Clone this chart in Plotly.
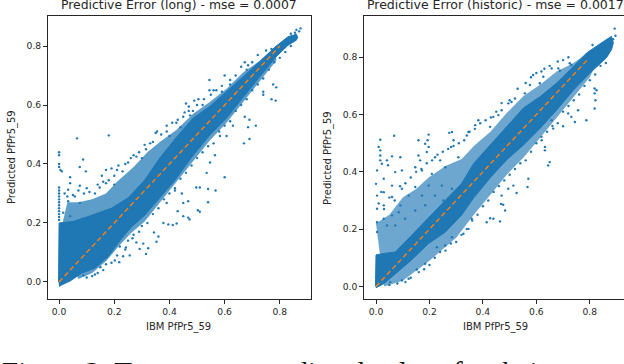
import plotly.graph_objects as go

# ---- left panel (long) ----
left_title = "Predictive Error (long) - mse = 0.0007"
left_core_x = [-0.002,0,0.05,0.1,0.19,0.25,0.31,0.365,0.425,0.486,0.546,0.607,0.667,0.727,0.787,0.83,0.86,0.865,0.86,0.83,0.787,0.727,0.667,0.607,0.546,0.486,0.42,0.358,0.311,0.263,0.227,0.178,0.13,0.082,0.04,0.01,0]
left_core_y = [0.0,0.2,0.205,0.22,0.25,0.285,0.345,0.42,0.49,0.556,0.595,0.645,0.696,0.747,0.8,0.832,0.84,0.83,0.82,0.803,0.764,0.696,0.624,0.556,0.498,0.43,0.345,0.278,0.227,0.187,0.148,0.086,0.047,0.03,0.003,-0.01,-0.016]
left_haze_x = [0,0.03,0.07,0.12,0.17,0.21,0.27,0.32,0.365,0.425,0.486,0.546,0.607,0.667,0.727,0.787,0.787,0.727,0.667,0.607,0.546,0.486,0.42,0.36,0.31,0.26,0.22,0.17,0.12,0.07]
left_haze_y = [0.15,0.27,0.27,0.28,0.30,0.34,0.39,0.44,0.475,0.515,0.57,0.61,0.655,0.71,0.75,0.80,0.75,0.68,0.61,0.54,0.48,0.41,0.33,0.26,0.205,0.165,0.125,0.07,0.03,0.01]
left_pts_x = [0,0,0,0,0.005,0.01,0.065,0.18,0.087,0.04,0.075,0.097,0.673,0.685,0.545,0.6,0.62,0.59,0.545,0.56,0.525,0.505,0.49,0.46,0.47,0.455,0.485,0.475,0.425,0.44,0.39,0.355,0.4,0.34,0.315,0.28,0.25,0.215,0.17,0.19,0.155,
              0.776,0.787,0.74,0.74,0.77,0.785,0.63,0.673,0.69,0.713,0.685,0.67,0.69,0.607,0.583,0.565,0.547,0.6,0.535,0.51,
              0.567,0.54,0.54,0.51,0.497,0.503,0.51,0.473,0.468,0.45,0.426,0.412,0.396,0.378,0.43,0.468,0.45,0.445,0.353,0.36,0.344,0.323,0.315,0.292,0.28,0.305,0.256,0.232,0.202,0.218,0.16,0.13,0.088,0.266,0.242,0.39,0.42,
              0.04,0.033,0.075,0.1,0.147,0.17,0.2,0.033,0.057,0.075,0.015,0.04,
              0,0,0,0,0,0,0,0,0,0,0,0,0.86,0.875,0.855,0.87,0.84]
left_pts_y = [0.44,0.43,0.40,0.39,0.38,0.375,0.487,0.497,0.415,0.355,0.39,0.375,0.745,0.735,0.685,0.70,0.685,0.665,0.65,0.65,0.62,0.62,0.615,0.605,0.595,0.575,0.58,0.565,0.54,0.525,0.51,0.51,0.495,0.475,0.45,0.425,0.405,0.395,0.38,0.385,0.36,
              0.67,0.66,0.645,0.635,0.62,0.615,0.53,0.56,0.55,0.53,0.525,0.47,0.485,0.495,0.495,0.43,0.405,0.355,0.37,0.46,
              0.31,0.315,0.27,0.32,0.32,0.243,0.238,0.212,0.218,0.223,0.198,0.193,0.195,0.2,0.24,0.274,0.268,0.3,0.136,0.154,0.168,0.114,0.095,0.112,0.134,0.13,0.09,0.087,0.073,0.067,0.04,0.025,0.022,0.148,0.117,0.268,0.318,
              0.335,0.313,0.326,0.318,0.32,0.335,0.33,0.274,0.29,0.268,0.235,0.223,
              0.32,0.31,0.30,0.29,0.28,0.27,0.26,0.25,0.24,0.23,0.22,0.21,0.855,0.86,0.845,0.85,0.842]
left_edge_x = [.02,.03,.05,.07,.09,.11,.13,.14,.16,.18,.2,.21,.23,.24,.26,.27,.29,.3,.31,.33,.35,.37,.39,.41,.43,.45,.47,.5,.52,.55,.57,.59,.62,.64,.66,.68,.7,.72,.75,.77,
               .1,.12,.14,.15,.17,.19,.21,.22,.24,.25,.27,.29,.3,.32,.34,.36,.38,.4,.42,.44,.46,.48,.5,.52,.54,.56,.58,.6,.62,.64,.66,.68,.7,.72,.74,.76,.78,.8,.82,.84]
left_edge_y = [.30,.29,.295,.31,.30,.305,.3,.33,.34,.345,.36,.38,.375,.40,.42,.43,.44,.42,.465,.47,.505,.5,.53,.54,.55,.56,.58,.60,.60,.635,.65,.645,.67,.70,.73,.72,.745,.77,.785,.79,
               .015,.02,.03,.05,.06,.065,.09,.12,.11,.14,.16,.17,.19,.20,.23,.25,.28,.30,.31,.35,.37,.395,.42,.44,.46,.47,.51,.53,.545,.58,.60,.62,.65,.67,.69,.72,.745,.76,.78,.80]
left_line_x = [0.0,0.8]
left_line_y = [0.0,0.8]

# ---- right panel (historic) ----
right_title = "Predictive Error (historic) - mse = 0.0017"
right_core_x = [-0.002,0,0.03,0.072,0.13,0.197,0.26,0.321,0.366,0.428,0.489,0.552,0.615,0.676,0.739,0.788,0.851,0.881,0.888,0.881,0.862,0.801,0.739,0.676,0.615,0.552,0.489,0.428,0.366,0.321,0.26,0.197,0.13,0.072,0.03,0]
right_core_y = [0,0.11,0.115,0.12,0.175,0.24,0.30,0.36,0.43,0.494,0.558,0.623,0.663,0.71,0.768,0.815,0.855,0.873,0.85,0.826,0.798,0.745,0.686,0.616,0.553,0.494,0.442,0.38,0.31,0.25,0.19,0.15,0.09,0.045,0.01,-0.005]
right_haze_x = [0,0.05,0.1,0.15,0.197,0.26,0.321,0.366,0.428,0.489,0.552,0.615,0.676,0.739,0.8,0.86,0.8,0.739,0.676,0.615,0.552,0.489,0.428,0.366,0.3,0.2,0.1,0.03]
right_haze_y = [0.22,0.25,0.31,0.34,0.38,0.42,0.445,0.49,0.54,0.605,0.665,0.705,0.75,0.78,0.82,0.85,0.73,0.66,0.59,0.52,0.45,0.39,0.32,0.25,0.17,0.09,0.02,0.0]
right_pts_x = [0.893,0.896,0.887,0.81,0.725,0.731,0.657,0.682,0.688,0.619,0.626,0.588,0.576,0.613,0.557,0.52,0.495,0.507,0.47,0.458,0.439,0.383,0.371,0.427,0.346,0.34,0.284,0.274,0.29,0.281,0.197,0.193,0.184,0.19,0.197,0.159,0.068,0.016,0.01,0.016,0.016,0.016,0.022,0.041,0.045,0.06,0.004,0.091,0.097,0.159,0.165,0.147,0.172,0.221,0.24,0.259,0.209,0.308,0.072,0.029,
               0.818,0.825,0.818,0.821,0.818,0.787,0.744,0.731,0.719,0.756,0.663,0.619,0.632,0.632,0.65,0.644,0.57,0.657,0.7,
               0.567,0.526,0.514,0.495,0.47,0.468,0.476,0.483,0.439,0.414,0.464,0.427,0.346,0.358,0.327,0.284,0.259,0.228,0.184,0.153,0.122,0.097,0.053,
               0,0.004,0.029,0.06,0.091,0.085,0.06,0.122,0.147,0.172,0.197,0.097,0.06,0.004,0.004,0.004,0.029,0.041,0.029,0.072,0.109,0.147,0.184,0.221,0.246,0.284,0.252]
right_pts_y = [0.90,0.875,0.863,0.843,0.779,0.773,0.761,0.761,0.753,0.75,0.732,0.738,0.703,0.709,0.674,0.656,0.639,0.644,0.615,0.598,0.592,0.58,0.563,0.557,0.539,0.527,0.539,0.536,0.51,0.487,0.53,0.51,0.498,0.469,0.487,0.51,0.526,0.512,0.487,0.475,0.457,0.44,0.428,0.44,0.423,0.454,0.405,0.451,0.405,0.457,0.44,0.416,0.405,0.451,0.44,0.416,0.393,0.451,0.399,0.376,
               0.691,0.685,0.674,0.65,0.621,0.58,0.574,0.592,0.604,0.615,0.551,0.522,0.487,0.475,0.434,0.422,0.376,0.58,0.559,
               0.347,0.326,0.352,0.341,0.317,0.288,0.285,0.265,0.236,0.224,0.227,0.238,0.201,0.236,0.184,0.172,0.143,0.137,0.079,0.059,0.027,0.021,0.015,
               0.358,0.317,0.329,0.312,0.283,0.259,0.248,0.317,0.347,0.317,0.352,0.341,0.352,0.271,0.224,0.19,0.283,0.213,0.236,0.213,0.236,0.265,0.283,0.317,0.352,0.341,0.3]
right_edge_x = [.01,.02,.03,.05,.07,.09,.11,.13,.15,.17,.19,.21,.23,.25,.27,.29,.31,.33,.35,.37,.39,.41,.43,.45,.47,.5,.53,.56,.58,.6,.63,.65,.68,.7,.72,
                .05,.08,.11,.13,.16,.18,.2,.22,.24,.26,.28,.3,.32,.34,.36,.38,.4,.42,.44,.46,.48,.5,.52,.54,.56,.58,.6,.62,.64,.66,.68,.7,.72,.74,.76,.78,.8,.82,.84,.86]
right_edge_y = [.29,.33,.27,.31,.30,.35,.36,.38,.40,.41,.43,.44,.46,.47,.48,.49,.50,.51,.54,.55,.57,.58,.59,.61,.64,.65,.69,.71,.73,.745,.76,.77,.785,.79,.80,
                .005,.01,.015,.03,.05,.06,.075,.10,.12,.125,.15,.155,.18,.20,.23,.25,.28,.30,.33,.35,.37,.39,.41,.43,.44,.47,.50,.51,.54,.56,.57,.61,.63,.65,.67,.70,.72,.74,.77,.78]
right_line_x = [0.0,0.795]
right_line_y = [0.0,0.795]

x_ticks = [0.0,0.2,0.4,0.6,0.8]
y_ticks = [0.0,0.2,0.4,0.6,0.8]
x_label = "IBM PfPr5_59"
y_label = "Predicted PfPr5_59"
caption = "Figure 3: True versus predicted values for their"

BLUE, ORANGE, INK = "#1f77b4", "#ff7f0e", "#262626"
W, H = 624, 364
fig = go.Figure()

def panel(core_x, core_y, haze_x, haze_y, pts_x, pts_y, edge_x, edge_y, line_x, line_y, xa, ya, haze_op):
    fig.add_trace(go.Scatter(x=haze_x, y=haze_y, mode="lines", fill="toself", line=dict(width=0),
                             fillcolor=BLUE, opacity=haze_op, xaxis=xa, yaxis=ya, showlegend=False, hoverinfo="skip"))
    fig.add_trace(go.Scatter(x=core_x, y=core_y, mode="lines", fill="toself", line=dict(color=BLUE, width=1),
                             fillcolor=BLUE, xaxis=xa, yaxis=ya, showlegend=False, hoverinfo="skip"))
    fig.add_trace(go.Scatter(x=pts_x + edge_x, y=pts_y + edge_y, mode="markers",
                             marker=dict(color=BLUE, size=2.4, line=dict(width=0)),
                             xaxis=xa, yaxis=ya, showlegend=False))
    fig.add_trace(go.Scatter(x=line_x, y=line_y, mode="lines", line=dict(color=ORANGE, width=1.4, dash="5px,3px"),
                             xaxis=xa, yaxis=ya, showlegend=False))

panel(left_core_x, left_core_y, left_haze_x, left_haze_y, left_pts_x, left_pts_y, left_edge_x, left_edge_y, left_line_x, left_line_y, "x", "y", 0.72)
panel(right_core_x, right_core_y, right_haze_x, right_haze_y, right_pts_x, right_pts_y, right_edge_x, right_edge_y, right_line_x, right_line_y, "x2", "y2", 0.65)

def axis(domain, rng, ticks, anchor):
    return dict(domain=domain, range=rng, tickvals=ticks, ticktext=[f"{t:.1f}" for t in ticks], anchor=anchor,
                showgrid=False, zeroline=False, showline=True, mirror=True, linecolor=INK, linewidth=1,
                ticks="outside", ticklen=3.5, tickwidth=1, tickcolor=INK,
                tickfont=dict(family="DejaVu Sans", size=9.2, color=INK))

dom_y = [(H-299.3)/H, (H-16)/H]
layout = dict(width=W, height=H, margin=dict(l=0, r=0, t=0, b=0, autoexpand=False),
              paper_bgcolor="white", plot_bgcolor="white", showlegend=False,
              xaxis=axis([47.5/W, 311/W], [-0.042, 0.913], x_ticks, "y"),
              yaxis=axis(dom_y, [-0.059, 0.902], y_ticks, "x"),
              xaxis2=axis([363.7/W, 623.5/W], [-0.046, 0.926], x_ticks, "y2"),
              yaxis2=axis(dom_y, [-0.045, 0.944], y_ticks, "x2"))

def note(text, px, py, size=10.0, angle=0, family="DejaVu Sans", xanchor="center", yanchor="middle", color=INK):
    return dict(text=text, xref="paper", yref="paper", x=px/W, y=1-py/H, xanchor=xanchor, yanchor=yanchor,
                showarrow=False, textangle=angle, font=dict(family=family, size=size, color=color))

layout["annotations"] = [
    note(left_title, 178.5, 5, size=12.4), note(right_title, 496, 5, size=12.5),
    note(x_label, 178.7, 327), note(x_label, 496, 327),
    note(y_label, 12, 157, angle=-90), note(y_label, 328, 158, angle=-90),
    note(caption, 0, 353.5, size=29, family="Liberation Serif", xanchor="left", yanchor="top", color="#111111"),
]
fig.update_layout(**layout)
fig.write_html("out.html", config=dict(displayModeBar=False), post_script="document.body.style.margin='0';")
